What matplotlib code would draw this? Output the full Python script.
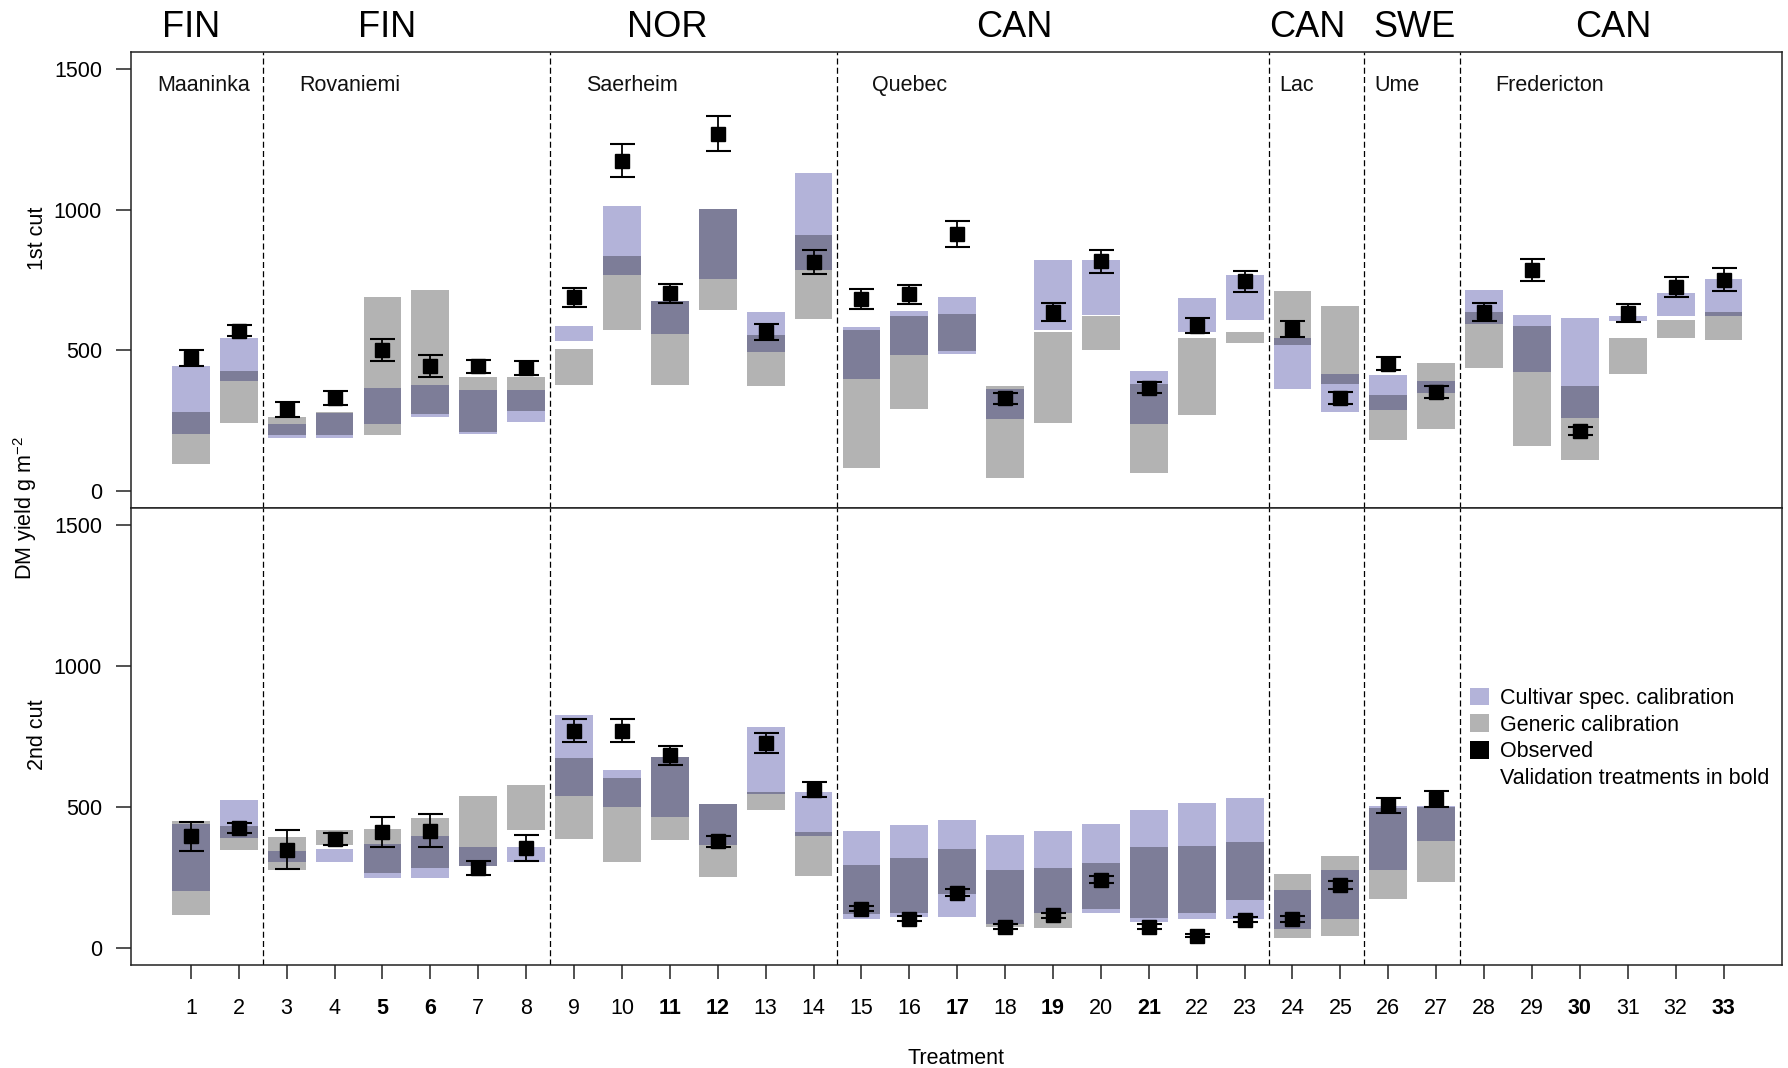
import matplotlib
matplotlib.use('Agg')
import matplotlib.pyplot as plt
from matplotlib.patches import Patch
import numpy as np

plt.rcParams['font.family'] = ['Liberation Sans', 'DejaVu Sans']
plt.rcParams['mathtext.fontset'] = 'custom'
plt.rcParams['mathtext.rm'] = 'Liberation Sans'
plt.rcParams['mathtext.it'] = 'Liberation Sans:italic'
plt.rcParams['mathtext.bf'] = 'Liberation Sans:bold'

# ---- data -------------------------------------------------------------
treatments = list(range(1, 34))
validation = [5, 6, 11, 12, 17, 19, 21, 30, 33]

countries = ['FIN', 'FIN', 'NOR', 'CAN', 'CAN', 'SWE', 'CAN']
sites = ['Maaninka', 'Rovaniemi', 'Saerheim', 'Quebec', 'Lac', 'Ume', 'Fredericton']
site_breaks = [2.5, 8.5, 14.5, 23.5, 25.5, 27.5]

# 1st cut: simulated range with cultivar-specific and generic calibration
cut1_cv_lo = [203, 392, 187, 188, 240, 262, 203, 246, 534, 768, 558, 755, 494, 787, 397, 485, 487,
              256, 573, 627, 240, 564, 607, 364, 280, 289, 348, 595, 422, 259, 603, 623, 623]
cut1_cv_hi = [445, 544, 240, 276, 368, 376, 358, 358, 588, 1012, 676, 1002, 636, 1129, 582, 640, 690,
              363, 822, 822, 428, 686, 769, 543, 416, 411, 392, 713, 627, 615, 623, 704, 754]
cut1_gen_lo = [96, 242, 198, 200, 198, 275, 211, 286, 378, 573, 378, 642, 374, 613, 81, 290, 499,
               47, 242, 500, 65, 270, 525, 519, 381, 182, 222, 437, 159, 109, 416, 544, 538]
cut1_gen_hi = [280, 428, 265, 280, 690, 713, 406, 406, 505, 836, 676, 1002, 553, 909, 573, 621, 630,
               372, 567, 621, 381, 544, 567, 710, 656, 342, 455, 636, 585, 372, 544, 607, 636]
cut1_obs = [472, 570, 291, 331, 502, 443, 443, 437, 688, 1174, 703, 1270, 566, 814, 683, 700, 912,
            330, 638, 816, 367, 588, 745, 576, 331, 453, 353, 638, 786, 212, 632, 726, 751]
cut1_err = [28, 20, 27, 24, 39, 39, 24, 24, 35, 58, 34, 63, 29, 42, 35, 34, 46,
            19, 32, 40, 20, 28, 37, 29, 20, 24, 21, 32, 40, 14, 32, 36, 40]

# 2nd cut (treatments 1-27 only)
cut2_cv_lo = [203, 391, 306, 306, 247, 247, 291, 306, 538, 499, 466, 364, 545, 397, 104, 111, 111,
              87, 126, 126, 91, 102, 102, 66, 104, 275, 378]
cut2_cv_hi = [441, 525, 345, 352, 368, 396, 358, 358, 825, 632, 679, 509, 782, 553, 415, 436, 455,
              400, 415, 441, 489, 515, 533, 206, 275, 503, 503]
cut2_gen_lo = [116, 349, 275, 364, 265, 284, 291, 417, 387, 306, 383, 252, 490, 257, 120, 126, 192,
               76, 72, 139, 107, 126, 172, 36, 42, 174, 233]
cut2_gen_hi = [452, 432, 394, 417, 422, 460, 539, 578, 674, 602, 679, 509, 553, 410, 293, 319, 352,
               275, 284, 300, 358, 361, 377, 261, 328, 497, 499]
cut2_obs = [396, 426, 349, 387, 413, 416, 284, 355, 771, 771, 683, 378, 726, 561, 140, 104, 197,
            76, 117, 243, 76, 44, 100, 102, 224, 506, 529]
cut2_err = [51, 18, 70, 22, 53, 58, 24, 46, 40, 40, 33, 18, 36, 27, 10, 9, 11,
            9, 9, 14, 9, 6, 9, 10, 15, 26, 28]

# ---- style --------------------------------------------------------------
C_CV = '#b3b3d9'
C_GEN = '#b3b3b3'
C_BOTH = '#7d7d98'
FS = 15.5
BAR_W = 0.79
SPINE = '#222222'

W, H = 1788, 1068
fig = plt.figure(figsize=(W / 100, H / 100), dpi=100)

def fx(px):
    return px / W

def fy(py):
    return 1 - py / H

ax1 = fig.add_axes([fx(131), fy(508), fx(1782 - 131), (508 - 52) / H])
ax2 = fig.add_axes([fx(131), fy(965), fx(1782 - 131), (965 - 508) / H])


def draw_cut(ax, cv_lo, cv_hi, gen_lo, gen_hi, obs, err):
    n = len(obs)
    x = np.array(treatments[:n])
    cv_lo, cv_hi = np.array(cv_lo), np.array(cv_hi)
    gen_lo, gen_hi = np.array(gen_lo), np.array(gen_hi)
    ax.bar(x, cv_hi - cv_lo, bottom=cv_lo, width=BAR_W, color=C_CV, linewidth=0, zorder=2)
    ax.bar(x, gen_hi - gen_lo, bottom=gen_lo, width=BAR_W, color=C_GEN, linewidth=0, zorder=2)
    # where both simulated ranges overlap the band is drawn darker
    ov_lo = np.maximum(cv_lo, gen_lo)
    ov_hi = np.minimum(cv_hi, gen_hi)
    m = ov_hi > ov_lo
    ax.bar(x[m], (ov_hi - ov_lo)[m], bottom=ov_lo[m], width=BAR_W, color=C_BOTH,
           linewidth=0, zorder=3)
    ax.errorbar(x, obs, yerr=err, fmt='s', color='black', ms=10, mec='black',
                elinewidth=1.3, capsize=9, capthick=1.5, zorder=5)
    for b in site_breaks:
        ax.axvline(b, color='black', lw=0.9, linestyle=(0, (4.8, 2.6)), zorder=1)
    ax.set_xlim(-0.25, 34.22)
    ax.set_ylim(-60, 1560)
    ax.set_yticks([0, 500, 1000, 1500])
    ax.tick_params(axis='y', direction='out', length=10.8, width=1.1, labelsize=FS,
                   pad=10, color=SPINE)
    for s in ax.spines.values():
        s.set_linewidth(1.1)
        s.set_color(SPINE)


draw_cut(ax1, cut1_cv_lo, cut1_cv_hi, cut1_gen_lo, cut1_gen_hi, cut1_obs, cut1_err)
draw_cut(ax2, cut2_cv_lo, cut2_cv_hi, cut2_gen_lo, cut2_gen_hi, cut2_obs, cut2_err)

ax1.set_xticks([])
ax2.set_xticks(treatments)
ax2.set_xticklabels([str(t) for t in treatments])
ax2.tick_params(axis='x', direction='out', length=10.4, width=1.1, labelsize=FS,
                pad=13, color=SPINE)
for lab, t in zip(ax2.get_xticklabels(), treatments):
    if t in validation:
        lab.set_fontweight('bold')

# site names inside the top panel
site_x = [0.3, 3.27, 9.25, 15.23, 23.73, 25.7, 28.23]
for s, xs in zip(sites, site_x):
    ax1.text(xs, 1440, s, fontsize=FS, ha='left', va='center', color='#111111')

# country names above the top panel
country_x = [1.0, 5.1, 10.95, 18.2, 24.3, 26.55, 30.7]
for c, xc in zip(countries, country_x):
    ax1.text(xc, 1.053, c, transform=ax1.get_xaxis_transform(), fontsize=26,
             ha='center', va='center', color='black')

# axis titles
fig.text(fx(37.5), fy(238), '1st cut', rotation=90, fontsize=FS, ha='center', va='center')
fig.text(fx(37.5), fy(735), '2nd cut', rotation=90, fontsize=FS, ha='center', va='center')
fig.text(fx(25), fy(508), r'DM yield g m$^{-2}$', rotation=90, fontsize=FS,
         ha='center', va='center')
fig.text(fx(956), fy(1058), 'Treatment', fontsize=FS, ha='center', va='center')

handles = [Patch(facecolor=C_CV, edgecolor='none'),
           Patch(facecolor=C_GEN, edgecolor='none'),
           Patch(facecolor='black', edgecolor='none'),
           Patch(facecolor='none', edgecolor='none')]
labels = ['Cultivar spec. calibration', 'Generic calibration', 'Observed',
          'Validation treatments in bold']
ax2.legend(handles, labels, loc='upper left', bbox_to_anchor=(0.811, 0.607),
           frameon=False, fontsize=FS, handlelength=0.9, handleheight=0.9,
           handletextpad=0.5, labelspacing=0.245, borderpad=0, borderaxespad=0)

fig.savefig('out.png', dpi=100)
